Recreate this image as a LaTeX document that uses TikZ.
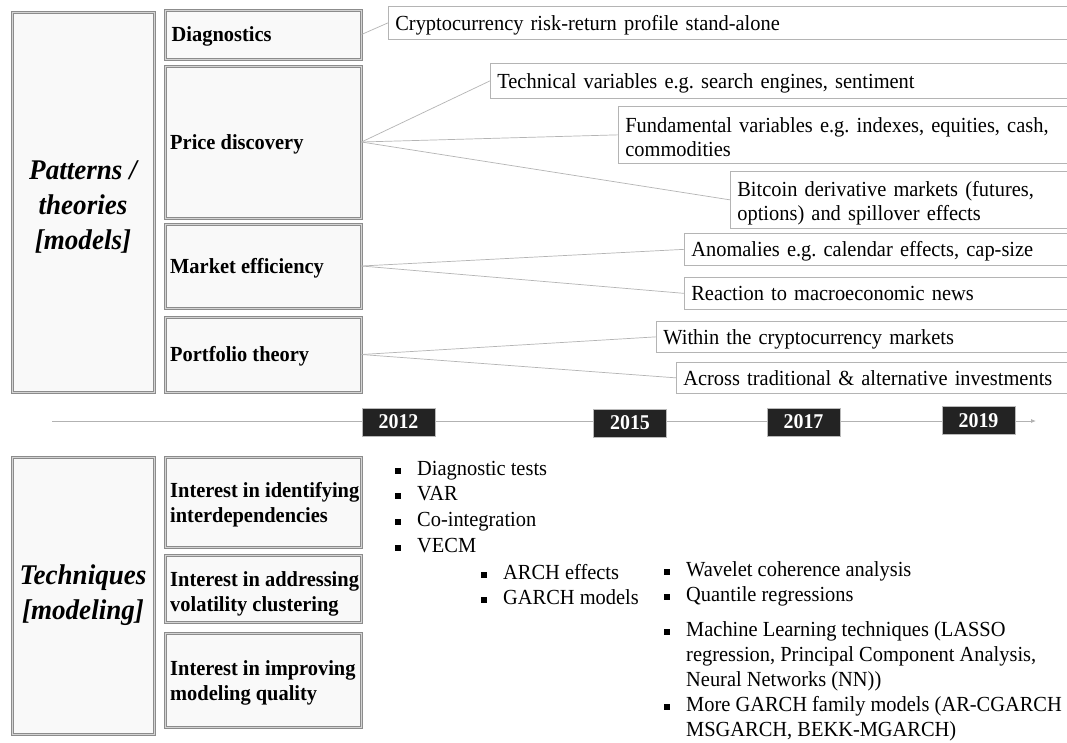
\documentclass[tikz,border=0pt]{standalone}
\usepackage{fontspec}
\setmainfont{Liberation Serif}[FakeStretch=0.95]
\usetikzlibrary{arrows.meta}
\definecolor{panelfill}{HTML}{F9F9F9}
\definecolor{frameg}{HTML}{8C8C8C}
\definecolor{framehi}{HTML}{D4D4D4}
\definecolor{yearbg}{HTML}{232323}
\definecolor{linkg}{HTML}{B4B4B4}
% square bullet followed by the gap before the item text
\newcommand\bsq{\makebox[22pt][l]{\rule[1.5pt]{5.5pt}{5.5pt}}}
% invisible strut that pushes a two-line text block down a little
\newcommand\lowstrut[1]{\rule{0pt}{#1}}
\frenchspacing
\begin{document}
\begin{tikzpicture}[x=1pt,y=-1pt,
  every node/.style={font=\fontsize{21.5}{24.5}\selectfont},
  frame/.style={draw=frameg, double=framehi, double distance=1pt, line width=1pt, fill=panelfill, anchor=north west, inner sep=0pt},
  cattext/.style={anchor=west, align=left, inner sep=0pt, yshift=-2pt, font=\bfseries\fontsize{21.5}{25}\selectfont},
  bigtext/.style={align=center, inner sep=0pt, font=\bfseries\itshape\fontsize{28.5}{35}\selectfont},
  topicbase/.style={draw=linkg, line width=0.7pt, fill=white, anchor=north west, inner xsep=7pt, inner ysep=0pt, align=left},
  topic/.style={topicbase, text depth=0pt},
  topictwo/.style={topicbase, font=\fontsize{21.5}{23.5}\selectfont},
  link/.style={draw=linkg, line width=0.7pt},
  year/.style={fill=yearbg, draw=gray!55, line width=0.6pt, minimum width=73pt, minimum height=28pt, inner sep=0pt, text=white, font=\bfseries\fontsize{21}{24}\selectfont},
  bul/.style={anchor=mid west, inner sep=0pt}
]
\useasboundingbox (0,0) rectangle (1067,742);
\fill[white] (0,0) rectangle (1067,742);
\clip (0,0) rectangle (1067,742);

% ---------- upper block: patterns / theories ----------
\node[frame, minimum width=142pt, minimum height=380pt] (pt) at (11.5,11.5) {};
\node[bigtext] (ptt) at ([yshift=-5]pt.center) {Patterns /\\ theories\\ {[}models{]}};

\node[frame, minimum width=196pt, minimum height=49pt]  (diag) at (164.5,9.5) {};
\node[frame, minimum width=196pt, minimum height=152pt] (pd)   at (164.5,65.5) {};
\node[frame, minimum width=196pt, minimum height=84pt]  (me)   at (164.5,223.5) {};
\node[frame, minimum width=196pt, minimum height=75pt]  (pf)   at (164.5,316.5) {};
\node[cattext] (diagt) at ([xshift=7]diag.west) {Diagnostics};
\node[cattext] (pdt)   at ([xshift=5.5]pd.west) {Price discovery};
\node[cattext] (met)   at ([xshift=5.5]me.west) {Market efficiency};
\node[cattext] (pft)   at ([xshift=5.5]pf.west) {Portfolio theory};

% topic boxes, running off the right edge
\node[topic, minimum height=33pt, text width=665pt] (crypto) at (388,6)   {Cryptocurrency risk-return profile stand-alone};
\node[topic, minimum height=35pt, text width=565pt] (tech)   at (490,63)  {Technical variables e.g. search engines, sentiment};
\node[topictwo, minimum height=57pt, text width=440pt] (fund) at (618,106) {\lowstrut{19.5pt}Fundamental variables e.g. indexes, equities, cash,\\ commodities};
\node[topictwo, minimum height=57pt, text width=330pt, font=\fontsize{21.5}{24}\selectfont] (btc) at (730,171) {\lowstrut{22pt}Bitcoin derivative markets (futures,\\ options) and spillover effects};
\node[topic, minimum height=32pt, text width=380pt] (anom)   at (684,233) {Anomalies e.g. calendar effects, cap-size};
\node[topic, minimum height=32pt, text width=380pt] (react)  at (684,277) {Reaction to macroeconomic news};
\node[topic, minimum height=31pt, text width=410pt] (within) at (656,321) {Within the cryptocurrency markets};
\node[topic, minimum height=31pt, text width=390pt] (across) at (676,362) {Across traditional \& alternative investments};

% links from each theme to its topics
\draw[link] (diag.east) -- (crypto.west);
\draw[link] (pd.east) -- (tech.west);
\draw[link] (pd.east) -- (fund.west);
\draw[link] (pd.east) -- (btc.west);
\draw[link] (me.east) -- (anom.west);
\draw[link] (me.east) -- (react.west);
\draw[link] (pf.east) -- (within.west);
\draw[link] (pf.east) -- (across.west);

% ---------- timeline ----------
\coordinate (tl0) at (52,421);
\coordinate (tl1) at (1036,421);
\draw[draw=gray!60, line width=0.8pt, -{Latex[length=5pt,width=4pt]}] (tl0) -- (tl1);
\node[year] (y12) at (398.5,422) {2012};
\node[year] (y15) at (630,423)   {2015};
\node[year] (y17) at (803.5,422) {2017};
\node[year] (y19) at (978.5,420.5) {2019};

% ---------- lower block: techniques ----------
\node[frame, minimum width=142pt, minimum height=277pt] (tq) at (11.5,456.5) {};
\node[bigtext] (tqt) at ([yshift=0]tq.center) {Techniques\\ {[}modeling{]}};

\node[frame, minimum width=196pt, minimum height=90pt] (c1) at (164.5,456.5) {};
\node[frame, minimum width=196pt, minimum height=67pt] (c2) at (164.5,554.5) {};
\node[frame, minimum width=196pt, minimum height=94pt] (c3) at (164.5,632.5) {};
\node[cattext] (c1t) at ([xshift=5.5,yshift=-1]c1.west) {Interest in identifying\\ interdependencies};
\node[cattext] (c2t) at ([xshift=5.5,yshift=-3]c2.west) {Interest in addressing\\ volatility clustering};
\node[cattext] (c3t) at ([xshift=5.5,yshift=-1]c3.west) {Interest in improving\\ modeling quality};

% technique lists
\node[bul] (t1) at (395,473) {\bsq Diagnostic tests};
\node[bul] (t2) at (395,498) {\bsq VAR};
\node[bul] (t3) at (395,524) {\bsq Co-integration};
\node[bul] (t4) at (395,550) {\bsq VECM};
\node[bul] (a1) at (481,577) {\bsq ARCH effects};
\node[bul] (a2) at (481,602) {\bsq GARCH models};
\node[bul] (w1) at (664,574) {\bsq Wavelet coherence analysis};
\node[bul] (w2) at (664,599) {\bsq Quantile regressions};
\node[bul] (m1) at (664,634) {\bsq Machine Learning techniques (LASSO};
\node[bul] (m2) at (686,659) {regression, Principal Component Analysis,};
\node[bul] (m3) at (686,684) {Neural Networks (NN))};
\node[bul] (g1) at (664,709) {\bsq More GARCH family models (AR-CGARCH};
\node[bul] (g2) at (686,734) {MSGARCH, BEKK-MGARCH)};
\end{tikzpicture}
\end{document}
